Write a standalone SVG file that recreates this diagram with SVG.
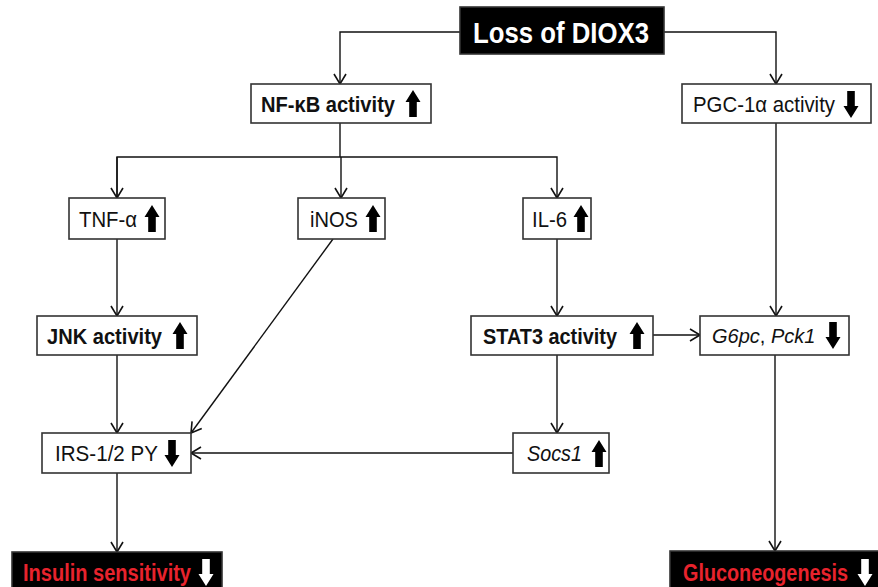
<svg xmlns="http://www.w3.org/2000/svg" xmlns:xlink="http://www.w3.org/1999/xlink" width="878" height="587" viewBox="0 0 878 587">
<style>
.box{fill:#fff;stroke:#333;stroke-width:1.6}
.dark{fill:#000;stroke:#333;stroke-width:1.6}
.t{font-family:"Liberation Sans",Arial,sans-serif;font-size:22px;fill:#111}
.b{font-weight:bold}
.i{font-style:italic}
.red{fill:#e8232d;font-weight:bold;font-size:23px}
.wt{fill:#fff;font-size:29px;font-weight:bold}
.ln{fill:none;stroke:#111;stroke-width:1.4}
</style>
<defs>
<marker id="ah" markerWidth="14" markerHeight="14" refX="11" refY="7" orient="auto" markerUnits="userSpaceOnUse">
<path d="M1,1 L11,7 L1,13" fill="none" stroke="#111" stroke-width="1.6"/>
</marker>
<path id="up" d="M0,0 L7.5,12 L3.8,12 L3.8,27 L-3.8,27 L-3.8,12 L-7.5,12 Z"/>
<path id="dn" d="M0,27 L7.5,15 L3.8,15 L3.8,0 L-3.8,0 L-3.8,15 L-7.5,15 Z"/>
</defs>

<g id="connectors">
<polyline class="ln" points="460,32 340,32 340,84" marker-end="url(#ah)"/>
<polyline class="ln" points="664,32 776,32 776,84" marker-end="url(#ah)"/>
<polyline class="ln" points="340,123 340,157"/>
<polyline class="ln" points="117,198 117,157 557,157 557,198" marker-end="url(#ah)"/>
<line class="ln" x1="117" y1="157" x2="117" y2="198" marker-end="url(#ah)"/>
<line class="ln" x1="341" y1="157" x2="341" y2="198" marker-end="url(#ah)"/>
<line class="ln" x1="117" y1="239" x2="117" y2="316" marker-end="url(#ah)"/>
<line class="ln" x1="117" y1="355" x2="117" y2="433" marker-end="url(#ah)"/>
<line class="ln" x1="333" y1="239" x2="191" y2="433" marker-end="url(#ah)"/>
<line class="ln" x1="557" y1="239" x2="557" y2="316" marker-end="url(#ah)"/>
<line class="ln" x1="653" y1="335" x2="700" y2="335" marker-end="url(#ah)"/>
<line class="ln" x1="776" y1="123" x2="776" y2="316" marker-end="url(#ah)"/>
<line class="ln" x1="557" y1="355" x2="557" y2="433" marker-end="url(#ah)"/>
<line class="ln" x1="513" y1="453" x2="191" y2="453" marker-end="url(#ah)"/>
<line class="ln" x1="117" y1="473" x2="117" y2="552" marker-end="url(#ah)"/>
<line class="ln" x1="775" y1="355" x2="775" y2="551" marker-end="url(#ah)"/>
</g>

<g id="loss">
<rect class="dark" x="460" y="7" width="204" height="47"/>
<text class="t wt" x="473" y="43" textLength="176" lengthAdjust="spacingAndGlyphs">Loss of DIOX3</text>
</g>
<g id="nfkb">
<rect class="box" x="251" y="84" width="180" height="39"/>
<text class="t b" x="261" y="112" textLength="134" lengthAdjust="spacingAndGlyphs">NF-κB activity</text>
<use xlink:href="#up" x="413" y="90" fill="#000"/>
</g>
<g id="pgc">
<rect class="box" x="682" y="84" width="189" height="39"/>
<text class="t" x="693" y="112" textLength="142" lengthAdjust="spacingAndGlyphs">PGC-1α activity</text>
<use xlink:href="#dn" x="851" y="91" fill="#000"/>
</g>
<g id="tnf">
<rect class="box" x="69" y="198" width="96" height="41"/>
<text class="t" x="79" y="227" textLength="58" lengthAdjust="spacingAndGlyphs">TNF-α</text>
<use xlink:href="#up" x="152" y="205" fill="#000"/>
</g>
<g id="inos">
<rect class="box" x="298" y="198" width="87" height="41"/>
<text class="t" x="310" y="227" textLength="48" lengthAdjust="spacingAndGlyphs">iNOS</text>
<use xlink:href="#up" x="373" y="205" fill="#000"/>
</g>
<g id="il6">
<rect class="box" x="523" y="198" width="68" height="41"/>
<text class="t" x="532" y="227" textLength="35" lengthAdjust="spacingAndGlyphs">IL-6</text>
<use xlink:href="#up" x="581" y="205" fill="#000"/>
</g>
<g id="jnk">
<rect class="box" x="37" y="316" width="160" height="39"/>
<text class="t b" x="47" y="344" textLength="115" lengthAdjust="spacingAndGlyphs">JNK activity</text>
<use xlink:href="#up" x="180" y="322" fill="#000"/>
</g>
<g id="stat3">
<rect class="box" x="471" y="316" width="182" height="39"/>
<text class="t b" x="483" y="344" textLength="134" lengthAdjust="spacingAndGlyphs">STAT3 activity</text>
<use xlink:href="#up" x="637" y="322" fill="#000"/>
</g>
<g id="g6pc">
<rect class="box" x="700" y="316" width="149" height="39"/>
<text class="t" x="712" y="343" style="font-size:20px"><tspan class="i">G6pc</tspan>, <tspan class="i">Pck1</tspan></text>
<use xlink:href="#dn" x="833" y="322" fill="#000"/>
</g>
<g id="irs">
<rect class="box" x="42" y="433" width="149" height="40"/>
<text class="t" x="55" y="461" textLength="103" lengthAdjust="spacingAndGlyphs">IRS-1/2 PY</text>
<use xlink:href="#dn" x="172" y="440" fill="#000"/>
</g>
<g id="socs1">
<rect class="box" x="513" y="433" width="96" height="40"/>
<text class="t i" x="527" y="461" textLength="55" lengthAdjust="spacingAndGlyphs">Socs1</text>
<use xlink:href="#up" x="599" y="440" fill="#000"/>
</g>
<g id="insulin">
<rect class="dark" x="12" y="552" width="210" height="40"/>
<text class="t red" x="23" y="581" textLength="168" lengthAdjust="spacingAndGlyphs">Insulin sensitivity</text>
<use xlink:href="#dn" x="206" y="559" fill="#fff"/>
</g>
<g id="gluco">
<rect class="dark" x="670" y="551" width="210" height="40"/>
<text class="t red" x="683" y="581" textLength="165" lengthAdjust="spacingAndGlyphs">Gluconeogenesis</text>
<use xlink:href="#dn" x="865" y="559" fill="#fff"/>
</g>
</svg>
